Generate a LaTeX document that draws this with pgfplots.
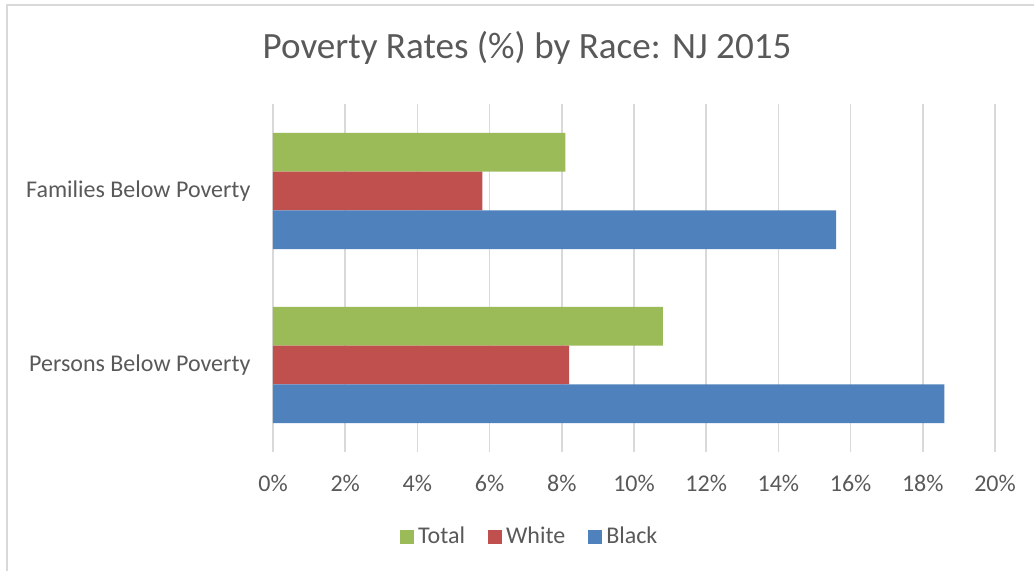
\documentclass[border=0pt]{standalone}
\usepackage{fontspec}
\setmainfont{Carlito}
\usepackage{pgfplots}
\pgfplotsset{compat=1.18}

\definecolor{txt}{RGB}{89,89,89}
\definecolor{gridc}{RGB}{217,217,217}
\definecolor{cTotal}{RGB}{155,187,89}
\definecolor{cWhite}{RGB}{192,80,77}
\definecolor{cBlack}{RGB}{79,129,189}

\begin{document}
\begin{tikzpicture}
% 1 px of the reference = 0.5pt
\useasboundingbox (0,0) rectangle (517pt,285.5pt);
\draw[gridc, line width=1pt] (3.5pt,-2pt) -- (3.5pt,283pt) -- (520pt,283pt);
\node[txt, font=\fontsize{18.55}{22}\selectfont] at (263.5pt,261.5pt) {Poverty Rates (\%) by Race: NJ 2015};
\begin{axis}[
  at={(136.5pt,59.5pt)}, anchor=south west,
  scale only axis,
  width=361pt, height=174pt,
  xbar, bar width=19.35pt,
  xmin=0, xmax=20,
  ymin=-0.5, ymax=1.5,
  xtick={0,2,...,20},
  xticklabel={\pgfmathprintnumber{\tick}\%},
  /pgf/number format/assume math mode=true,
  ytick={0,1},
  yticklabels={Persons Below Poverty, Families Below Poverty},
  xmajorgrids=true,
  grid style={gridc, line width=0.85pt},
  axis line style={draw=none},
  tick style={draw=none},
  tick label style={font=\fontsize{12}{14}\selectfont, text=txt},
  xticklabel style={yshift=-8pt},
  yticklabel style={xshift=-3.5pt},
  legend columns=3,
  legend style={at={(axis description cs:0.357,-0.244)}, anchor=center,
    draw=none, fill=none, font=\fontsize{12}{14}\selectfont, text=txt,
    /tikz/every even column/.append style={column sep=9.5pt}},
  legend image code/.code={\fill[#1] (0pt,-3.5pt) rectangle (7pt,3.5pt);},
  clip=false,
]
\addplot[fill=cTotal, draw=none, bar shift=19.35pt] coordinates {(10.8,0) (8.1,1)};
\addplot[fill=cWhite, draw=none, bar shift=0pt] coordinates {(8.2,0) (5.8,1)};
\addplot[fill=cBlack, draw=none, bar shift=-19.35pt] coordinates {(18.6,0) (15.6,1)};
\legend{Total, White, Black}
\end{axis}
\end{tikzpicture}
\end{document}
